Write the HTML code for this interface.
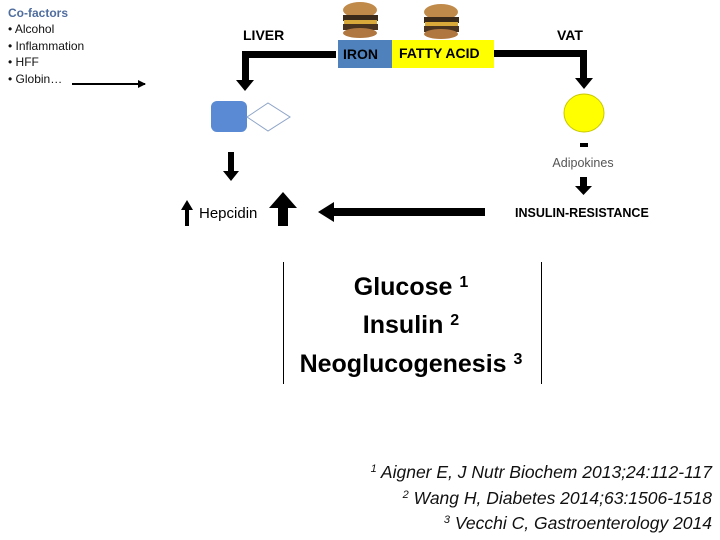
<!DOCTYPE html>
<html><head><meta charset="utf-8"><style>
html,body{margin:0;padding:0;background:#fff;width:720px;height:540px;overflow:hidden}
svg{display:block}
text{font-family:"Liberation Sans",sans-serif}
</style></head><body>
<svg width="720" height="540" viewBox="0 0 720 540">
<defs>
<marker id="ah" markerWidth="8" markerHeight="8" refX="7" refY="4" orient="auto" markerUnits="userSpaceOnUse"><path d="M0,0 L8,4 L0,8 Z" fill="#000"/></marker>
</defs>
<text x="8" y="17" font-size="12" font-weight="bold" fill="#4f6d9e">Co-factors</text>
<g font-size="12" fill="#111">
<text x="8" y="33">• Alcohol</text>
<text x="8" y="50">• Inflammation</text>
<text x="8" y="66">• HFF</text>
<text x="8" y="83">• Globin…</text>
</g>
<line x1="72" y1="84" x2="145" y2="84" stroke="#000" stroke-width="2" marker-end="url(#ah)"/>
<text x="243" y="40" font-size="14" font-weight="bold">LIVER</text>
<text x="557" y="40" font-size="14" font-weight="bold">VAT</text>
<path d="M336,51 L242,51 L242,80 L236,80 L245,91 L254,80 L249,80 L249,58 L336,58 Z" fill="#000"/>
<path d="M494,50 L587,50 L587,78 L593,78 L584,89 L575,78 L580,78 L580,57 L494,57 Z" fill="#000"/>
<g>
<ellipse cx="360" cy="10" rx="17" ry="8" fill="#c08a4a"/>
<rect x="343" y="15" width="35" height="6" fill="#3a2a1a"/>
<rect x="344" y="20" width="33" height="4" fill="#d9a93a"/>
<rect x="343" y="24" width="35" height="6" fill="#4a3420"/>
<ellipse cx="360" cy="33" rx="17" ry="5" fill="#b07840"/>
<ellipse cx="441" cy="12" rx="17" ry="8" fill="#c08a4a"/>
<rect x="424" y="17" width="35" height="6" fill="#3a2a1a"/>
<rect x="425" y="22" width="33" height="4" fill="#d9a93a"/>
<rect x="424" y="26" width="35" height="6" fill="#4a3420"/>
<ellipse cx="441" cy="34" rx="17" ry="5" fill="#b07840"/>
</g>
<rect x="338" y="40" width="54" height="28" fill="#4f81bd"/>
<rect x="392" y="40" width="102" height="28" fill="#ffff00"/>
<text x="343" y="59" font-size="14" font-weight="bold">IRON</text>
<text x="399" y="58" font-size="14" font-weight="bold">FATTY ACID</text>
<rect x="211" y="101" width="36" height="31" rx="6" fill="#5a8ad4"/>
<path d="M247,117 L268,103 L290,117 L268,131 Z" fill="#fff" stroke="#8ea4c8" stroke-width="1"/>
<path d="M228,152 L234,152 L234,171 L239,171 L231,181 L223,171 L228,171 Z" fill="#000"/>
<ellipse cx="584" cy="113" rx="20" ry="19" fill="#ffff00" stroke="#c8c800"/>
<rect x="580" y="143" width="8" height="4" fill="#000"/>
<text x="583" y="167" font-size="12.5" fill="#555" text-anchor="middle">Adipokines</text>
<path d="M580,177 L587,177 L587,186 L592,186 L583.5,195 L575,186 L580,186 Z" fill="#000"/>
<text x="515" y="217" font-size="12.5" font-weight="bold">INSULIN-RESISTANCE</text>
<path d="M485,208 L334,208 L334,202 L318,212 L334,222 L334,216 L485,216 Z" fill="#000"/>
<path d="M185,226 L185,210 L181,210 L187,200 L193,210 L189,210 L189,226 Z" fill="#000"/>
<text x="199" y="218" font-size="15">Hepcidin</text>
<path d="M278,226 L278,208 L269,208 L283,192 L297,208 L288,208 L288,226 Z" fill="#000"/>
<line x1="283.5" y1="262" x2="283.5" y2="384" stroke="#000" stroke-width="1"/>
<line x1="541.5" y1="262" x2="541.5" y2="384" stroke="#000" stroke-width="1"/>
<g font-size="25" font-weight="bold" text-anchor="middle">
<text x="411" y="295">Glucose <tspan font-size="16" dy="-8">1</tspan></text>
<text x="411" y="333">Insulin <tspan font-size="16" dy="-8">2</tspan></text>
<text x="411" y="372">Neoglucogenesis <tspan font-size="16" dy="-8">3</tspan></text>
</g>
<g font-size="17.5" font-style="italic" text-anchor="end" fill="#111">
<text x="712" y="478"><tspan font-size="11" dy="-6">1</tspan><tspan dy="6"> Aigner E, J Nutr Biochem 2013;24:112-117</tspan></text>
<text x="712" y="504"><tspan font-size="11" dy="-6">2</tspan><tspan dy="6"> Wang H, Diabetes 2014;63:1506-1518</tspan></text>
<text x="712" y="529"><tspan font-size="11" dy="-6">3</tspan><tspan dy="6"> Vecchi C, Gastroenterology 2014</tspan></text>
</g>
</svg>
</body></html>
